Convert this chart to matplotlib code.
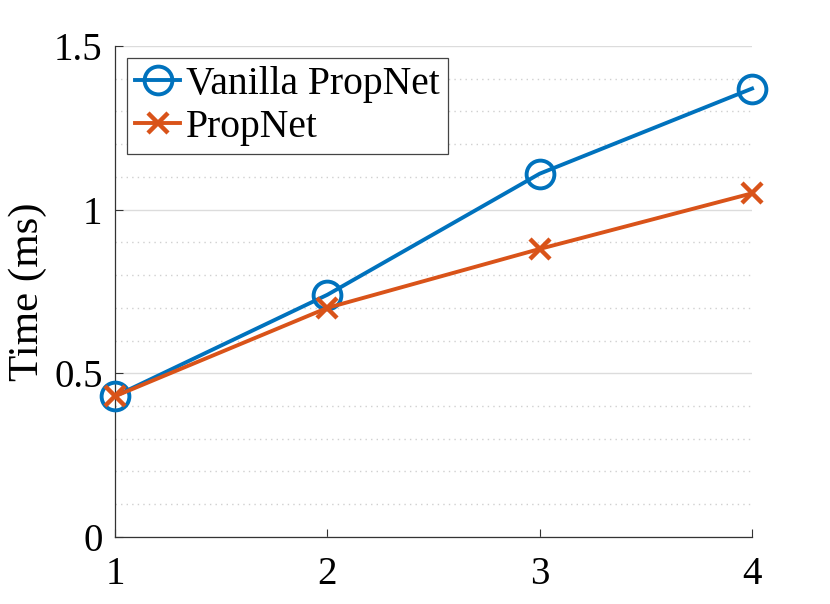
import matplotlib
matplotlib.use("Agg")
import matplotlib.pyplot as plt
from matplotlib.ticker import MultipleLocator

x = [1, 2, 3, 4]
vanilla = [0.43, 0.74, 1.11, 1.37]
propnet = [0.43, 0.70, 0.88, 1.05]
labels = ["Vanilla PropNet", "PropNet"]
xticks = [1, 2, 3, 4]
yticks = [0, 0.5, 1, 1.5]
yticklabels = ['0', '0.5', '1', '1.5']

plt.rcParams['font.family'] = ['Liberation Serif', 'DejaVu Serif']

fig = plt.figure(figsize=(8.3, 6.04), dpi=100)
ax = fig.add_axes([0.1386, 0.111, 0.7675, 0.8128])

ax.plot(x, vanilla, color='#0072BD', lw=2.8, marker='o', markersize=20,
        markerfacecolor='none', markeredgewidth=2.8, label=labels[0],
        zorder=3, clip_on=False)
ax.plot(x, propnet, color='#D95319', lw=2.8, marker='x', markersize=14,
        markeredgewidth=3.2, label=labels[1], zorder=4, clip_on=False)

ax.set_xlim(1, 4)
ax.set_ylim(0, 1.5)
ax.set_xticks(xticks)
ax.set_yticks(yticks)
ax.set_yticklabels(yticklabels)
ax.yaxis.set_minor_locator(MultipleLocator(0.1))
ax.grid(True, which='major', axis='y', color='#dcdcdc', lw=1.0, ls='-')
ax.grid(True, which='minor', axis='y', color='#d0d0d0', lw=1.0, ls=(0, (1, 3)))
ax.set_axisbelow(True)
ax.tick_params(axis='both', which='major', direction='in', labelsize=28,
               length=6, width=0.8, color='#333333')
ax.tick_params(axis='x', which='major', pad=14)
ax.tick_params(axis='y', which='major', pad=9)
ax.tick_params(axis='y', which='minor', length=0)
for s in ['top', 'right']:
    ax.spines[s].set_visible(False)
for s in ['left', 'bottom']:
    ax.spines[s].set_color('#333333')
    ax.spines[s].set_linewidth(0.9)
ax.set_ylabel('Time (ms)', fontsize=31, labelpad=5)

leg = ax.legend(loc='upper left', fontsize=28.5, frameon=True, fancybox=False,
                edgecolor='#444444', framealpha=1, handlelength=1.15,
                handletextpad=0.15, borderpad=0.2, labelspacing=0.15,
                borderaxespad=0.3, markerscale=1.0)
leg.get_frame().set_linewidth(0.9)

fig.savefig('out.png', dpi=100)
